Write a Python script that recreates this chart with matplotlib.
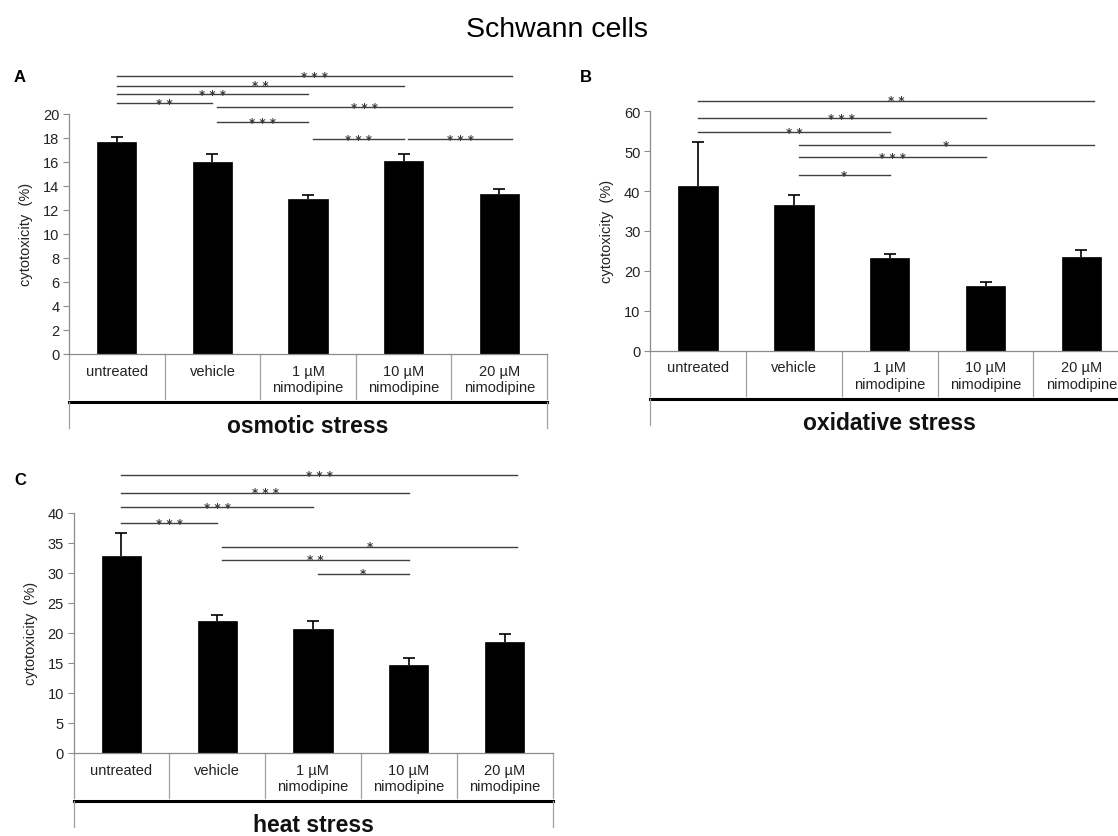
import matplotlib
matplotlib.use("Agg")
import matplotlib.pyplot as plt

plt.rcParams["font.family"] = ["Liberation Sans", "DejaVu Sans"]

# categories shared by all three panels
groups = ["untreated", "vehicle", "1 µM\nnimodipine", "10 µM\nnimodipine", "20 µM\nnimodipine"]

# A - osmotic stress
osmotic_mean = [17.7, 16.0, 12.9, 16.1, 13.3]
osmotic_err = [0.37, 0.67, 0.35, 0.57, 0.42]
osmotic_ticks = [0, 2, 4, 6, 8, 10, 12, 14, 16, 18, 20]
osmotic_sig = [(0, 4, 23.15, "***"), (0, 3, 22.36, "**"), (0, 2, 21.67, "***"),
               (0, 1, 20.89, "**"), (1, 4, 20.56, "***"), (1, 2, 19.31, "***"),
               (2, 3, 17.91, "***"), (3, 4, 17.91, "***")]

# B - oxidative stress
oxidative_mean = [41.3, 36.5, 23.2, 16.1, 23.4]
oxidative_err = [11.1, 2.5, 0.9, 1.0, 1.9]
oxidative_ticks = [0, 10, 20, 30, 40, 50, 60]
oxidative_sig = [(0, 4, 62.66, "**"), (0, 3, 58.24, "***"), (0, 2, 54.73, "**"),
                 (1, 4, 51.47, "*"), (1, 3, 48.46, "***"), (1, 2, 44.02, "*")]

# C - heat stress
heat_mean = [32.8, 21.9, 20.6, 14.7, 18.4]
heat_err = [3.9, 1.1, 1.3, 1.1, 1.4]
heat_ticks = [0, 5, 10, 15, 20, 25, 30, 35, 40]
heat_sig = [(0, 4, 46.3, "***"), (0, 3, 43.4, "***"), (0, 2, 41.0, "***"),
            (0, 1, 38.3, "***"), (1, 4, 34.4, "*"), (1, 3, 32.2, "**"),
            (2, 3, 29.9, "*")]

W, H = 1118, 837
GREY = "#8c8c8c"
TABLE_GREY = "#a0a0a0"

fig = plt.figure(figsize=(W / 100, H / 100), dpi=100)


def draw_panel(rect, means, errs, ticks, sig, letter, letter_xy, stress):
    ax = fig.add_axes(rect)
    n = len(groups)
    x = list(range(n))
    ax.bar(x, means, width=0.41, color="black", edgecolor="black", lw=0.5, zorder=2)
    eb = ax.errorbar(x, means, yerr=[[0] * n, errs], fmt="none", ecolor="black",
                     elinewidth=1.2, capsize=4.5, capthick=1.2, zorder=3)
    eb[1][0].set_visible(False)  # only the upper cap
    ax.set_xlim(-0.5, n - 0.5)
    ax.set_ylim(0, ticks[-1])
    ax.set_yticks(ticks)
    ax.set_xticks([])
    for s in ["top", "right"]:
        ax.spines[s].set_visible(False)
    for s in ["left", "bottom"]:
        ax.spines[s].set_color(GREY)
        ax.spines[s].set_linewidth(0.9)
    ax.tick_params(axis="y", length=4, width=0.8, color=GREY, labelsize=10.5,
                   labelcolor="#222222", pad=3)
    ax.set_ylabel("cytotoxicity  (%)", fontsize=10.5, labelpad=7, color="#222222")

    # significance bars above the plot
    for i, j, y, stars in sig:
        x1 = i + (0.05 if i > 0 else 0.0)
        x2 = j + (0.13 if j == n - 1 else 0.0)
        ax.plot([x1, x2], [y, y], color="#404040", lw=1.0, clip_on=False, zorder=4)
        ax.annotate(" ".join(stars), xy=((x1 + x2) / 2, y), xytext=(0, -2.6),
                    textcoords="offset points", ha="center", va="baseline",
                    fontsize=8.5, fontweight="bold", family="DejaVu Sans",
                    color="#3a3a3a", annotation_clip=False)

    # category table below the x axis
    h_px = rect[3] * H

    def fy(px):
        return -px / h_px

    tr = ax.get_xaxis_transform()
    for k in range(n + 1):
        ax.plot([k - 0.5, k - 0.5], [0, fy(45)], color=TABLE_GREY, lw=0.9,
                transform=tr, clip_on=False)
    ax.plot([-0.5, n - 0.5], [fy(48), fy(48)], color="black", lw=2.2,
            transform=tr, clip_on=False)
    for k in [-0.5, n - 0.5]:
        ax.plot([k, k], [fy(48), fy(74)], color=TABLE_GREY, lw=0.9,
                transform=tr, clip_on=False)
    for k, g in enumerate(groups):
        ax.text(k, fy(10), g, transform=tr, ha="center", va="top", fontsize=10.5,
                linespacing=1.2, color="#222222")
    ax.text((n - 1) / 2, fy(72), stress, transform=tr, ha="center", va="center",
            fontsize=16.5, fontweight="bold", color="#111111")

    fig.text(letter_xy[0] / W, 1 - letter_xy[1] / H, letter, ha="center", va="center",
             fontsize=12, fontweight="bold")
    return ax


draw_panel([69 / W, 1 - 354.7 / H, 478 / W, (354.7 - 115) / H],
           osmotic_mean, osmotic_err, osmotic_ticks, osmotic_sig,
           "A", (19.5, 78), "osmotic stress")
draw_panel([650.2 / W, 1 - 351.5 / H, 479 / W, (351.5 - 112.3) / H],
           oxidative_mean, oxidative_err, oxidative_ticks, oxidative_sig,
           "B", (586, 78), "oxidative stress")
draw_panel([73.5 / W, 1 - 753.7 / H, 479 / W, (753.7 - 514) / H],
           heat_mean, heat_err, heat_ticks, heat_sig,
           "C", (20, 481), "heat stress")

fig.text(557 / W, 1 - 30 / H, "Schwann cells", ha="center", va="center", fontsize=20.5)

fig.savefig("out.png", dpi=100)
